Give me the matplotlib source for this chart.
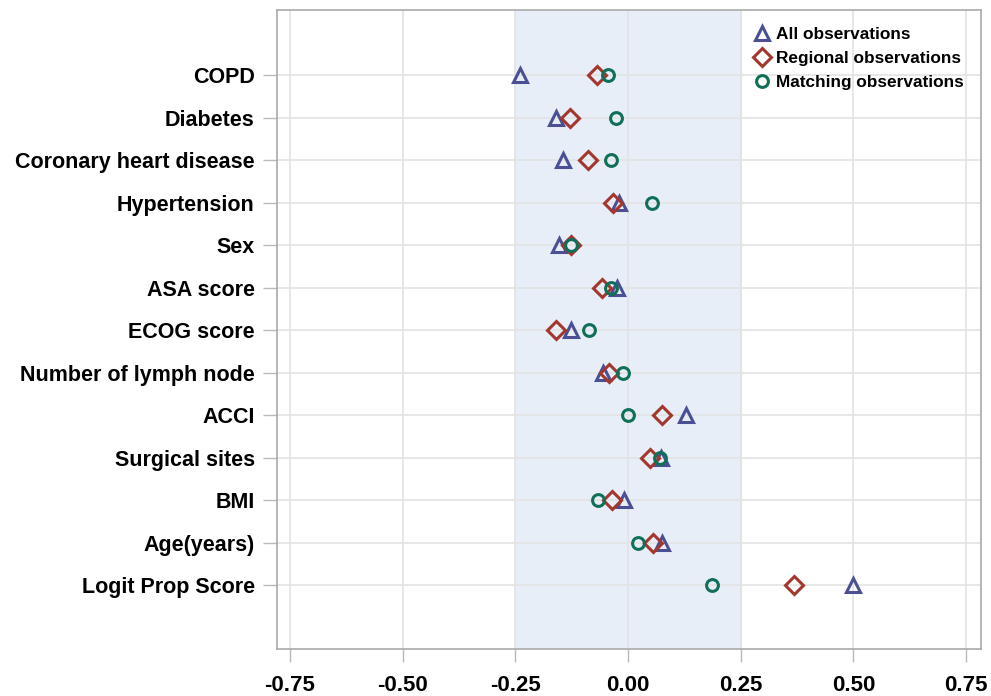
import matplotlib
matplotlib.use('Agg')
import matplotlib.pyplot as plt
import numpy as np

variables = ['COPD', 'Diabetes', 'Coronary heart disease', 'Hypertension', 'Sex',
             'ASA score', 'ECOG score', 'Number of lymph node', 'ACCI',
             'Surgical sites', 'BMI', 'Age(years)', 'Logit Prop Score']
all_obs = [-0.239, -0.161, -0.145, -0.020, -0.153, -0.025, -0.127, -0.055,
           0.128, 0.072, -0.009, 0.076, 0.498]
regional_obs = [-0.070, -0.128, -0.088, -0.033, -0.126, -0.058, -0.160, -0.042,
                0.076, 0.049, -0.036, 0.056, 0.368]
matching_obs = [-0.044, -0.026, -0.039, 0.052, -0.127, -0.037, -0.086, -0.011,
                -0.001, 0.070, -0.066, 0.023, 0.187]
xticks = [-0.75, -0.50, -0.25, 0.00, 0.25, 0.50, 0.75]

plt.rcParams['font.family'] = ['Liberation Sans', 'DejaVu Sans']

fig = plt.figure(figsize=(9.91, 6.96), dpi=100)
ax = fig.add_axes([0.2795, 0.0675, 0.7104, 0.918])

y = np.arange(len(variables))
ax.axvspan(-0.25, 0.25, color='#e7eef8', zorder=0)

ax.plot(all_obs, y, linestyle='none', marker='^', markersize=10, markerfacecolor='none',
        markeredgecolor='#4b4f94', markeredgewidth=2.2, label='All observations', zorder=3)
ax.plot(regional_obs, y, linestyle='none', marker='D', markersize=9, markerfacecolor='none',
        markeredgecolor='#a3372d', markeredgewidth=2.2, label='Regional observations', zorder=3)
ax.plot(matching_obs, y, linestyle='none', marker='o', markersize=8.5, markerfacecolor='none',
        markeredgecolor='#0f6f57', markeredgewidth=2.2, label='Matching observations', zorder=3)

ax.set_xlim(-0.779, 0.783)
ax.set_ylim(len(variables) - 1 + 1.5, -1.53)
ax.set_yticks(y)
ax.set_yticklabels(variables, fontsize=15.5, fontweight='bold')
ax.set_xticks(xticks)
ax.set_xticklabels(['%.2f' % t for t in xticks], fontsize=16, fontweight='bold')
ax.tick_params(axis='y', length=10, width=1, color='#bbbbbb', pad=6)
ax.tick_params(axis='x', length=9.5, width=1, color='#bbbbbb', pad=9)
ax.grid(True, color='#e3e3e3', linewidth=1.2, zorder=1)
ax.set_axisbelow(True)
for s in ax.spines.values():
    s.set_color('#aaaaaa')
    s.set_linewidth(1.2)

leg = ax.legend(loc='upper right', frameon=False, handletextpad=0.3,
                labelspacing=0.52, borderaxespad=0.6, handlelength=1.0,
                prop={'weight': 'bold', 'size': 12.4})

fig.savefig('out.png', dpi=100)
